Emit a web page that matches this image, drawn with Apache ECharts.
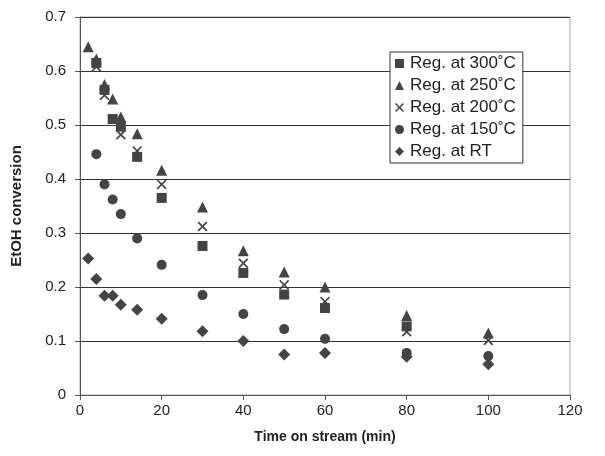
<!DOCTYPE html>
<html>
<head>
<meta charset="utf-8">
<script src="https://cdn.jsdelivr.net/npm/echarts@6/dist/echarts.min.js"></script>
<style>html,body{margin:0;padding:0;background:#fff}#c{width:605px;height:456px}</style>
</head>
<body>
<div id="c"></div>
<script>
const seriesNames = ['Reg. at 300˚C', 'Reg. at 250˚C', 'Reg. at 200˚C', 'Reg. at 150˚C', 'Reg. at RT'];
const x300 = [4, 6, 8, 10, 14, 20, 30, 40, 50, 60, 80];
const y300 = [0.615, 0.565, 0.511, 0.497, 0.441, 0.365, 0.276, 0.226, 0.186, 0.161, 0.127];
const x250 = [2, 4, 6, 8, 10, 14, 20, 30, 40, 50, 60, 80, 100];
const y250 = [0.645, 0.622, 0.575, 0.548, 0.515, 0.484, 0.416, 0.348, 0.267, 0.228, 0.2, 0.147, 0.115];
const x200 = [4, 6, 8, 10, 14, 20, 30, 40, 50, 60, 80, 100];
const y200 = [0.608, 0.555, 0.511, 0.482, 0.452, 0.39, 0.312, 0.244, 0.204, 0.173, 0.117, 0.101];
const x150 = [4, 6, 8, 10, 14, 20, 30, 40, 50, 60, 80, 100];
const y150 = [0.446, 0.39, 0.362, 0.335, 0.29, 0.241, 0.185, 0.15, 0.122, 0.104, 0.078, 0.072];
const xRT = [2, 4, 6, 8, 10, 14, 20, 30, 40, 50, 60, 80, 100];
const yRT = [0.253, 0.215, 0.184, 0.184, 0.167, 0.158, 0.141, 0.118, 0.1, 0.075, 0.078, 0.071, 0.057];

const xTitle = 'Time on stream (min)';
const yTitle = 'EtOH conversion';

const pair = (xs, ys) => xs.map((v, i) => [v, ys[i]]);
const FONT = 'Liberation Sans, Arial, sans-serif';
const MC = '#444';
const crossPath = 'path://M0,1.2L1.2,0L5,3.8L8.8,0L10,1.2L6.2,5L10,8.8L8.8,10L5,6.2L1.2,10L0,8.8L3.8,5Z';

const symbols = ['rect', 'triangle', crossPath, 'circle', 'diamond'];
const sizes = [10, 11, 10, 10, 12];
const datasets = [pair(x300, y300), pair(x250, y250), pair(x200, y200), pair(x150, y150), pair(xRT, yRT)];

const chart = echarts.init(document.getElementById('c'), null, {renderer: 'canvas'});
chart.setOption({
  animation: false,
  backgroundColor: '#fff',
  grid: {left: 80, top: 17, right: 35, bottom: 61, containLabel: false, outerBoundsMode: 'none',
         show: true, borderColor: '#aaa', borderWidth: 1, backgroundColor: 'transparent'},
  legend: {
    orient: 'vertical',
    left: 390, top: 52,
    data: seriesNames,
    backgroundColor: '#fff',
    borderColor: '#333', borderWidth: 1,
    padding: [3, 7, 3, 5],
    itemGap: 5,
    itemWidth: 9, itemHeight: 9,
    textStyle: {fontFamily: FONT, fontSize: 17, color: '#222', padding: [0, 0, 0, 1]}
  },
  xAxis: {
    type: 'value', min: 0, max: 120, interval: 20,
    name: xTitle, nameLocation: 'middle', nameGap: 35,
    nameTextStyle: {fontFamily: FONT, fontSize: 14, fontWeight: 'bold', color: '#222'},
    axisLine: {show: true, onZero: false, lineStyle: {color: '#555', width: 1}},
    axisTick: {show: true, inside: false, length: 5, lineStyle: {color: '#555'}},
    axisLabel: {fontFamily: FONT, fontSize: 15, color: '#222', margin: 8},
    splitLine: {show: false}
  },
  yAxis: {
    type: 'value', min: 0, max: 0.7, interval: 0.1,
    name: yTitle, nameLocation: 'middle', nameGap: 56,
    nameTextStyle: {fontFamily: FONT, fontSize: 15, fontWeight: 'bold', color: '#222'},
    axisLine: {show: true, lineStyle: {color: '#555', width: 1}},
    axisTick: {show: true, inside: false, length: 5, lineStyle: {color: '#555'}},
    axisLabel: {fontFamily: FONT, fontSize: 15, color: '#222', margin: 14},
    splitLine: {show: true, lineStyle: {color: '#333', width: 1}}
  },
  series: datasets.map((d, i) => ({
    name: seriesNames[i],
    type: 'scatter',
    data: d,
    symbol: symbols[i],
    symbolSize: sizes[i],
    itemStyle: {color: MC, opacity: 1},
    z: 2 + i
  }))
});
</script>
</body>
</html>
